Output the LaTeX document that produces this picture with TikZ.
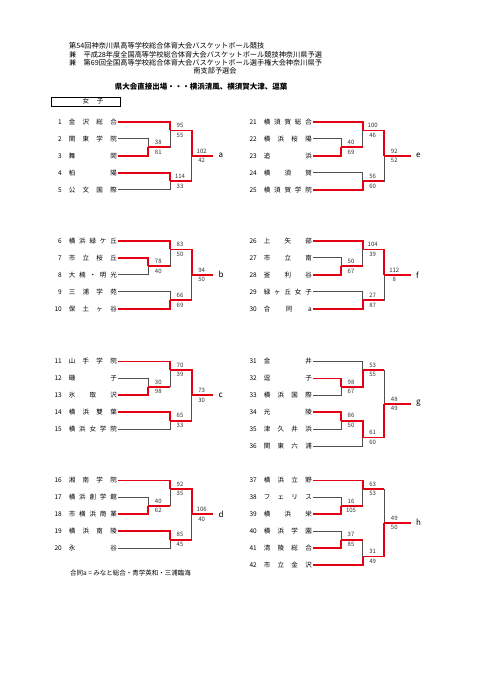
\documentclass[tikz,border=0pt]{standalone}
\usepackage{fontspec}
\newfontfamily\jp{Noto Sans CJK JP}
\definecolor{bred}{RGB}{228,0,18}
\definecolor{bgray}{RGB}{80,80,80}
\newcommand{\tno}[1]{\makebox[10pt][r]{#1}\hspace{7pt}}
\newcommand{\tname}[1]{\makebox[48pt][s]{#1}}

\begin{document}
\begin{tikzpicture}[x=1pt,y=-1pt,font=\jp\fontsize{6.5}{7}\selectfont]
\tikzstyle{team}=[anchor=east,inner sep=1pt]
\tikzstyle{win}=[draw=bred,line width=1.8pt,line cap=square]
\tikzstyle{lose}=[draw=bgray,line width=0.9pt]
\tikzstyle{sc}=[inner sep=2.4pt,font=\jp\fontsize{6}{6}\selectfont,text=black!80]
\tikzstyle{outl}=[anchor=west,inner sep=5pt,font=\jp\fontsize{8}{8}\selectfont]
\tikzstyle{head}=[anchor=west,inner sep=0pt,font=\jp\fontsize{7.2}{8}\selectfont]
\useasboundingbox[fill=white] (0,0) rectangle (481,680);

\node[head] (hd1) at (69,46) {第54回神奈川県高等学校総合体育大会バスケットボール競技};
\node[head] (hd2) at (69,54.5) {兼　平成28年度全国高等学校総合体育大会バスケットボール競技神奈川県予選};
\node[head] (hd3) at (69,62.5) {兼　第69回全国高等学校総合体育大会バスケットボール選手権大会神奈川県予};
\node[head,anchor=center] (hd4) at (215,70.5) {南支部予選会};
\node[head,anchor=center,font=\jp\bfseries\fontsize{7.5}{8}\selectfont] (ttl) at (201,87) {県大会直接出場・・・横浜清風、横須賀大津、逗葉};
\node[draw,line width=0.6pt,minimum width=69pt,minimum height=9pt,inner sep=0pt] (sex) at (85.5,101.5) {\hspace*{15pt}女\hspace{8pt}子};
\draw[line width=1.3pt] (sex.south west) -- (sex.south east) -- (sex.north east);

\foreach \i/\y/\nm in {1/122/金 沢 総 合, 2/138.9/関 東 学 院, 3/155.8/舞 岡, 4/172.7/柏 陽, 5/189.6/公 文 国 際,
  6/241/横 浜 緑 ケ 丘, 7/257.9/市 立 桜 丘, 8/274.8/大 楠 ・ 明 光, 9/291.7/三 浦 学 苑, 10/308.6/保 土 ヶ 谷,
  11/361.5/山 手 学 院, 12/378.4/磯 子, 13/395.3/氷 取 沢, 14/412.2/横 浜 雙 葉, 15/429.1/横 浜 女 学 院,
  16/480.5/湘 南 学 院, 17/497.4/横 浜 創 学 館, 18/514.3/市 横 浜 商 業, 19/531.2/横 浜 南 陵, 20/548.1/永 谷}
  \node[team] (t\i) at (118,\y) {\tno{\i}\tname{\nm}};
\foreach \i/\y/\nm in {21/122/横 須 賀 総 合, 22/138.9/横 浜 桜 陽, 23/155.8/追 浜, 24/172.7/横 須 賀, 25/189.6/横 須 賀 学 院,
  26/241/上 矢 部, 27/257.9/市 立 南, 28/274.8/釜 利 谷, 29/291.7/緑 ヶ 丘 女 子, 30/308.6/合 同 a,
  31/361.5/金 井, 32/378.4/逗 子, 33/395.3/横 浜 国 際, 34/412.2/光 陵, 35/429.1/津 久 井 浜, 36/446/関 東 六 浦,
  37/480.5/横 浜 立 野, 38/497.4/フ ェ リ ス, 39/514.3/横 浜 栄, 40/531.2/横 浜 学 園, 41/548.1/清 陵 総 合, 42/565/市 立 金 沢}
  \node[team] (t\i) at (313,\y) {\tno{\i}\tname{\nm}};

\coordinate (a1) at (148.3,147.35); \coordinate (a2) at (170,130.45); \coordinate (a3) at (170,181.15); \coordinate (a4) at (191.7,155.8);
\coordinate (b1) at (148.3,266.35); \coordinate (b2) at (170,249.45); \coordinate (b3) at (170,300.15); \coordinate (b4) at (191.7,274.8);
\coordinate (c1) at (148.3,386.85); \coordinate (c2) at (170,369.95); \coordinate (c3) at (170,420.65); \coordinate (c4) at (191.7,395.3);
\coordinate (d1) at (148.3,505.85); \coordinate (d2) at (170,488.95); \coordinate (d3) at (170,539.65); \coordinate (d4) at (191.7,514.3);
\coordinate (e1) at (341,147.35); \coordinate (e2) at (362.7,130.45); \coordinate (e3) at (362.7,181.15); \coordinate (e4) at (384.3,155.8);
\coordinate (f1) at (341,266.35); \coordinate (f2) at (362.7,249.45); \coordinate (f3) at (362.7,300.15); \coordinate (f4) at (384.3,274.8);
\coordinate (g1) at (341,386.85); \coordinate (g2) at (362.7,369.95); \coordinate (g3) at (341,420.65); \coordinate (g4) at (362.7,437.55); \coordinate (g5) at (384.3,403.75);
\coordinate (h1) at (341,505.85); \coordinate (h2) at (362.7,488.95); \coordinate (h3) at (341,539.65); \coordinate (h4) at (362.7,556.55); \coordinate (h5) at (384.3,522.75);

\node[outl] (oa) at (213.3,155.8) {a};
\node[outl] (ob) at (213.3,274.8) {b};
\node[outl] (oc) at (213.3,395.3) {c};
\node[outl] (od) at (213.3,514.3) {d};
\node[outl] (oe) at (411,155.8) {e};
\node[outl] (of) at (411,274.8) {f};
\node[outl] (og) at (411,403.75) {g};
\node[outl] (oh) at (411,522.75) {h};

\foreach \f/\t in {t2/a1,a1/a2,t5/a3,a3/a4, t8/b1,b1/b2,t9/b3,b3/b4, t12/c1,c1/c2,t15/c3,c3/c4,
  t17/d1,d1/d2,t20/d3,d3/d4, t22/e1,e1/e2,t24/e3,e3/e4, t27/f1,f1/f2,t29/f3,f3/f4,
  t33/g1,t31/g2,t35/g3,t36/g4,g2/g5, t38/h1,h1/h2,t40/h3,h3/h4,h2/h5}
  \draw[lose] (\f) -| (\t);
\foreach \f/\t in {a1/a2,a3/a4,b1/b2,b3/b4,c1/c2,c3/c4,d1/d2,d3/d4,e1/e2,e3/e4,f1/f2,f3/f4,g2/g5,h1/h2,h3/h4,h2/h5}
  \draw[win] (\f) -- (\f -| \t);
\foreach \f/\t in {t3/a1,t1/a2,t4/a3,a2/a4, t7/b1,t6/b2,t10/b3,b2/b4, t13/c1,t11/c2,t14/c3,c2/c4,
  t18/d1,t16/d2,t19/d3,d2/d4, t23/e1,t21/e2,t25/e3,e2/e4, t28/f1,t26/f2,t30/f3,f2/f4,
  t32/g1,g1/g2,t34/g3,g3/g4,g4/g5, t39/h1,t37/h2,t41/h3,t42/h4,h4/h5}
  \draw[win] (\f) -| (\t);
\foreach \f/\t in {a4/oa,b4/ob,c4/oc,d4/od,e4/oe,f4/of,g5/og,h5/oh}
  \draw[win] (\f) -- (\t);

\foreach \m/\u/\l in {a1/38/81,a2/95/55,a3/114/33,a4/102/42, b1/78/40,b2/83/50,b3/66/69,b4/94/50,
  c1/30/98,c2/70/39,c3/65/33,c4/73/30, d1/40/62,d2/92/35,d3/85/45,d4/106/40,
  e1/40/69,e2/100/46,e3/56/60,e4/92/52, f1/50/67,f2/104/39,f3/27/87,f4/112/8,
  g1/98/67,g2/53/55,g3/86/50,g4/61/60,g5/48/49, h1/16/105,h2/63/53,h3/37/85,h4/31/49,h5/49/50}
{
  \node[sc,above] (u\m) at ([xshift=10pt]\m) {\u};
  \node[sc,below] (l\m) at ([xshift=10pt]\m) {\l};
}

\node[anchor=west,inner sep=0pt] (note) at (70,573) {合同a = みなと総合・青学英和・三浦臨海};
\end{tikzpicture}
\end{document}
